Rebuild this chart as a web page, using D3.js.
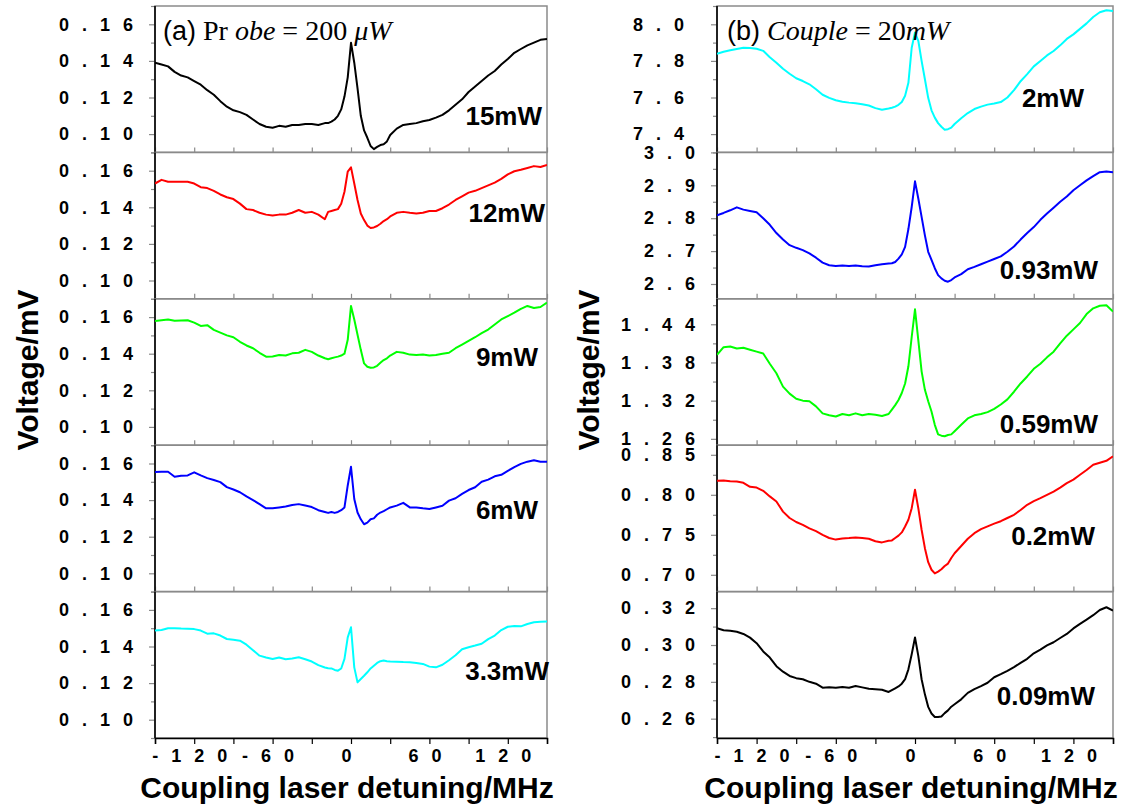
<!DOCTYPE html>
<html>
<head>
<meta charset="utf-8">
<script src="https://cdn.jsdelivr.net/npm/d3@7"></script>
<style>
  body { margin: 0; background: #fff; }
  svg { display: block; }
</style>
</head>
<body>
<svg id="chart" width="1137" height="810"></svg>
<script>
// Coupling-laser detuning grid (MHz): coarse in the wings, finer around the EIT peak
const detuning = [
  -150, -145, -140, -135, -130, -125, -120, -115, -110, -105, -100, -95, -90, -85, -80, -75, -70, -65, -60, -55, -50, -45, -40, -35, -30, -25, -20,
  -17.5, -15, -12.5, -10, -7.5, -5, -2.5, 0, 2.5, 5, 7.5, 10, 12.5, 15, 17.5, 20, 22.5, 25, 27.5, 30,
  35, 40, 45, 50, 55, 60, 65, 70, 75, 80, 85, 90, 95, 100, 105, 110, 115, 120, 125, 130, 135, 140, 145, 150
];

// (a) Probe = 200 uW, coupling power varied
const couplingPowers = ["15mW", "12mW", "9mW", "6mW", "3.3mW"];
const couplingColors = ["#000000", "#ff0000", "#00ff00", "#0000ff", "#00ffff"];

const coupling15mW = [
  0.139, 0.138, 0.137, 0.134, 0.132, 0.131, 0.129, 0.127, 0.124, 0.1215, 0.118, 0.115, 0.113, 0.112, 0.1105, 0.108, 0.1055, 0.104, 0.1035, 0.1045, 0.104, 0.105, 0.105, 0.1055, 0.1055, 0.105, 0.106,
  0.106, 0.1068, 0.108, 0.110, 0.1135, 0.1205, 0.131, 0.1499, 0.139, 0.125, 0.110, 0.102, 0.098, 0.0935, 0.0918, 0.093, 0.094, 0.0945, 0.096, 0.0995,
  0.103, 0.105, 0.1055, 0.106, 0.107, 0.1077, 0.109, 0.1105, 0.113, 0.116, 0.119, 0.123, 0.126, 0.129, 0.132, 0.1345, 0.138, 0.141, 0.1444, 0.1465, 0.1485, 0.150, 0.1515, 0.152
];
const coupling12mW = [
  0.153, 0.155, 0.154, 0.154, 0.154, 0.154, 0.153, 0.151, 0.1505, 0.149, 0.147, 0.1455, 0.1445, 0.142, 0.139, 0.1385, 0.137, 0.136, 0.1355, 0.136, 0.136, 0.137, 0.1385, 0.137, 0.1375, 0.136, 0.1335,
  0.1375, 0.138, 0.1385, 0.139, 0.142, 0.1485, 0.1595, 0.1618, 0.153, 0.144, 0.1366, 0.133, 0.130, 0.1287, 0.129, 0.1298, 0.131, 0.1325, 0.1335, 0.135,
  0.137, 0.1375, 0.137, 0.1366, 0.137, 0.138, 0.138, 0.1395, 0.1415, 0.144, 0.146, 0.148, 0.149, 0.1505, 0.152, 0.1535, 0.1555, 0.158, 0.1597, 0.1605, 0.1615, 0.1625, 0.162, 0.1631
];
const coupling9mW = [
  0.1578, 0.1583, 0.1587, 0.158, 0.1582, 0.1583, 0.157, 0.1552, 0.1556, 0.153, 0.1515, 0.150, 0.149, 0.1465, 0.1445, 0.143, 0.1405, 0.1384, 0.1385, 0.1393, 0.139, 0.1402, 0.1405, 0.1421, 0.141, 0.139, 0.1375,
  0.137, 0.1375, 0.138, 0.1384, 0.139, 0.140, 0.1476, 0.1661, 0.1587, 0.1504, 0.1421, 0.1347, 0.1329, 0.1323, 0.1325, 0.1334, 0.135, 0.1365, 0.1375, 0.139,
  0.141, 0.1405, 0.1395, 0.1393, 0.1395, 0.139, 0.1393, 0.140, 0.1405, 0.143, 0.145, 0.147, 0.149, 0.1512, 0.1532, 0.156, 0.1587, 0.1605, 0.1624, 0.1645, 0.1661, 0.165, 0.1655, 0.1679
];
const coupling6mW = [
  0.1554, 0.1555, 0.1555, 0.1528, 0.1533, 0.1535, 0.1552, 0.1535, 0.152, 0.151, 0.1498, 0.1471, 0.1458, 0.1443, 0.142, 0.140, 0.1378, 0.1355, 0.1355, 0.136, 0.1365, 0.1373, 0.1378, 0.137, 0.1362, 0.1345, 0.1335,
  0.133, 0.1335, 0.133, 0.1335, 0.1345, 0.136, 0.148, 0.1582, 0.1406, 0.1332, 0.1295, 0.1268, 0.1277, 0.1295, 0.130, 0.132, 0.1332, 0.134, 0.135, 0.136,
  0.137, 0.1385, 0.136, 0.136, 0.1355, 0.1351, 0.136, 0.1369, 0.1397, 0.141, 0.1434, 0.1455, 0.147, 0.150, 0.1512, 0.153, 0.1538, 0.156, 0.158, 0.1598, 0.161, 0.1618, 0.161, 0.1609
];
const coupling3p3mW = [
  0.1487, 0.149, 0.150, 0.150, 0.1498, 0.1497, 0.1495, 0.1487, 0.147, 0.1472, 0.146, 0.1441, 0.1437, 0.1432, 0.141, 0.138, 0.135, 0.134, 0.1332, 0.134, 0.133, 0.1335, 0.1341, 0.133, 0.1318, 0.1298, 0.1285,
  0.1281, 0.128, 0.1272, 0.1268, 0.128, 0.1332, 0.145, 0.1505, 0.1286, 0.1204, 0.1222, 0.124, 0.1259, 0.128, 0.1295, 0.131, 0.132, 0.1323, 0.132, 0.1318,
  0.1317, 0.1315, 0.1314, 0.131, 0.1305, 0.129, 0.1286, 0.130, 0.1325, 0.1352, 0.1385, 0.1396, 0.1405, 0.1415, 0.144, 0.146, 0.149, 0.1508, 0.1512, 0.151, 0.1523, 0.1532, 0.1535, 0.1536
];

// (b) Coupling = 20 mW, probe power varied
const probePowers = ["2mW", "0.93mW", "0.59mW", "0.2mW", "0.09mW"];
const probeColors = ["#00ffff", "#0000ff", "#00ff00", "#ff0000", "#000000"];

const probe2mW = [
  7.839, 7.85, 7.858, 7.865, 7.872, 7.87, 7.866, 7.855, 7.82, 7.79, 7.757, 7.73, 7.705, 7.69, 7.672, 7.645, 7.615, 7.598, 7.585, 7.577, 7.572, 7.568, 7.563, 7.556, 7.542, 7.533, 7.54,
  7.544, 7.55, 7.56, 7.575, 7.61, 7.68, 7.872, 7.955, 7.91, 7.80, 7.70, 7.598, 7.53, 7.49, 7.46, 7.44, 7.424, 7.427, 7.435, 7.455,
  7.487, 7.515, 7.537, 7.55, 7.561, 7.567, 7.575, 7.60, 7.64, 7.689, 7.728, 7.77, 7.80, 7.83, 7.854, 7.885, 7.92, 7.945, 7.975, 8.005, 8.04, 8.066, 8.077, 8.073
];
const probe0p93mW = [
  2.809, 2.816, 2.824, 2.833, 2.826, 2.822, 2.818, 2.80, 2.78, 2.755, 2.735, 2.718, 2.71, 2.703, 2.693, 2.68, 2.665, 2.657, 2.655, 2.656, 2.655, 2.656, 2.654, 2.653, 2.657, 2.66, 2.662,
  2.663, 2.667, 2.677, 2.69, 2.713, 2.767, 2.834, 2.912, 2.86, 2.804, 2.748, 2.698, 2.673, 2.648, 2.627, 2.617, 2.61, 2.607, 2.612, 2.62,
  2.63, 2.645, 2.652, 2.66, 2.668, 2.676, 2.684, 2.698, 2.714, 2.735, 2.755, 2.773, 2.795, 2.814, 2.832, 2.85, 2.866, 2.885, 2.90, 2.915, 2.928, 2.94, 2.942, 2.94
];
const probe0p59mW = [
  1.392, 1.404, 1.405, 1.402, 1.403, 1.400, 1.397, 1.394, 1.378, 1.363, 1.342, 1.331, 1.323, 1.32, 1.319, 1.311, 1.30, 1.297, 1.295, 1.299, 1.297, 1.300, 1.297, 1.299, 1.298, 1.296, 1.299,
  1.306, 1.313, 1.321, 1.332, 1.347, 1.374, 1.42, 1.4635, 1.415, 1.366, 1.337, 1.319, 1.303, 1.282, 1.267, 1.265, 1.264, 1.266, 1.267, 1.272,
  1.282, 1.292, 1.297, 1.299, 1.302, 1.307, 1.314, 1.322, 1.334, 1.347, 1.358, 1.37, 1.378, 1.388, 1.397, 1.41, 1.422, 1.432, 1.442, 1.456, 1.465, 1.469, 1.47, 1.46
];
const probe0p2mW = [
  0.8175, 0.818, 0.817, 0.8165, 0.815, 0.810, 0.809, 0.805, 0.798, 0.7917, 0.779, 0.771, 0.766, 0.7625, 0.758, 0.7545, 0.75, 0.746, 0.744, 0.7455, 0.746, 0.7467, 0.746, 0.745, 0.742, 0.7405, 0.7425,
  0.743, 0.746, 0.749, 0.753, 0.7604, 0.7688, 0.7833, 0.8063, 0.7833, 0.7563, 0.7333, 0.7158, 0.7063, 0.7017, 0.704, 0.707, 0.711, 0.714, 0.721, 0.727,
  0.736, 0.745, 0.752, 0.757, 0.7605, 0.764, 0.767, 0.771, 0.775, 0.781, 0.7875, 0.792, 0.7958, 0.800, 0.804, 0.809, 0.8146, 0.819, 0.825, 0.831, 0.8375, 0.840, 0.8425, 0.848
];
const probe0p09mW = [
  0.3091, 0.308, 0.3078, 0.3072, 0.306, 0.304, 0.301, 0.2965, 0.2932, 0.2885, 0.2855, 0.2832, 0.282, 0.2814, 0.280, 0.279, 0.2768, 0.277, 0.2768, 0.2772, 0.2768, 0.2777, 0.277, 0.2762, 0.276, 0.2757, 0.2745,
  0.2755, 0.2765, 0.2775, 0.279, 0.2815, 0.2868, 0.295, 0.3041, 0.2941, 0.2814, 0.2732, 0.2664, 0.2628, 0.2609, 0.2609, 0.2612, 0.263, 0.2645, 0.2665, 0.2678,
  0.2705, 0.274, 0.276, 0.2777, 0.2795, 0.2825, 0.2842, 0.286, 0.288, 0.2903, 0.2925, 0.2955, 0.2975, 0.2998, 0.3015, 0.3038, 0.306, 0.309, 0.3115, 0.3138, 0.3162, 0.319, 0.3205, 0.3187
];

// Axis ranges and ticks (voltage, mV)
const couplingDomains = [[0.09, 0.17], [0.09, 0.17], [0.09, 0.17], [0.09, 0.17], [0.09, 0.17]];
const couplingMajorTicks = [0.10, 0.12, 0.14, 0.16];
const couplingMinorTicks = [0.09, 0.11, 0.13, 0.15, 0.17];

const probeDomains = [[7.3, 8.1], [2.555, 3.0], [1.25, 1.48], [0.679, 0.862], [0.2495, 0.329]];
const probeMajorTicks = [[7.4, 7.6, 7.8, 8.0], [2.6, 2.7, 2.8, 2.9, 3.0], [1.26, 1.32, 1.38, 1.44], [0.70, 0.75, 0.80, 0.85], [0.26, 0.28, 0.30, 0.32]];
const probeMinorTicks = [[7.3, 7.5, 7.7, 7.9, 8.1], [2.65, 2.75, 2.85, 2.95], [1.29, 1.35, 1.41, 1.47], [0.725, 0.775, 0.825], [0.25, 0.27, 0.29, 0.31]];
const probeDecimals = [1, 1, 2, 2, 2];

const detuningTicks = [-150, -120, -90, -60, -30, 0, 30, 60, 90, 120, 150];
const detuningLabels = [-120, -60, 0, 60, 120];

// ---- layout ----
const svg = d3.select("#chart");
const SANS = "'Liberation Sans', Arial, Helvetica, sans-serif";
const SERIF = "'Liberation Serif', 'Times New Roman', serif";
const rowTop = 6, rowH = 146.4, nRows = 5;
const frameGrey = "#8a8a8a";

const panels = [
  {
    x0: 155, x1: 547,
    traces: [coupling15mW, coupling12mW, coupling9mW, coupling6mW, coupling3p3mW],
    colors: couplingColors, names: couplingPowers,
    domains: couplingDomains,
    major: couplingDomains.map(() => couplingMajorTicks),
    minor: couplingDomains.map(() => couplingMinorTicks),
    decimals: [2, 2, 2, 2, 2],
    labelGap: [18, 18, 18, 18, 18],
    nameAt: [[542, 125], [545, 222], [538, 366], [538, 519], [549, 680]],
    yTitleX: 27
  },
  {
    x0: 717, x1: 1113,
    traces: [probe2mW, probe0p93mW, probe0p59mW, probe0p2mW, probe0p09mW],
    colors: probeColors, names: probePowers,
    domains: probeDomains,
    major: probeMajorTicks,
    minor: probeMinorTicks,
    decimals: probeDecimals,
    labelGap: [29, 18, 18, 18, 18],
    nameAt: [[1084, 107], [1098, 279], [1098, 433], [1095, 545], [1095, 705]],
    yTitleX: 588
  }
];

const spaced = s => s.split("").join(" ");

panels.forEach((p, pi) => {
  const x = d3.scaleLinear().domain([-150, 150]).range([p.x0, p.x1]);
  const line = d3.line().x(d => x(d[0])).y(d => d[2](d[1]));

  p.traces.forEach((vals, i) => {
    const top = rowTop + i * rowH, bottom = top + rowH;
    const y = d3.scaleLinear().domain(p.domains[i]).range([bottom, top]);
    const g = svg.append("g");
    const clipId = `clip-${pi}-${i}`;
    g.append("clipPath").attr("id", clipId)
      .append("rect").attr("x", p.x0).attr("y", top).attr("width", p.x1 - p.x0).attr("height", rowH);

    // frame
    g.append("rect")
      .attr("x", p.x0).attr("y", top).attr("width", p.x1 - p.x0).attr("height", rowH)
      .attr("fill", "none").attr("stroke", frameGrey).attr("stroke-width", 1.5);

    // minor y ticks
    const yMinor = g.append("g").attr("transform", `translate(${p.x0},0)`)
      .call(d3.axisLeft(y).tickValues(p.minor[i]).tickSize(4).tickFormat(""));
    yMinor.select(".domain").remove();
    yMinor.selectAll("line").attr("stroke", frameGrey).attr("stroke-width", 1.2);

    // major y ticks with spaced labels
    const fmt = d3.format(`.${p.decimals[i]}f`);
    const yMajor = g.append("g").attr("transform", `translate(${p.x0},0)`)
      .call(d3.axisLeft(y).tickValues(p.major[i]).tickSize(6).tickFormat(d => spaced(fmt(d))));
    yMajor.select(".domain").remove();
    yMajor.selectAll("line").attr("stroke", frameGrey).attr("stroke-width", 1.2);
    yMajor.selectAll("text")
      .attr("x", -p.labelGap[i])
      .attr("font-family", SANS).attr("font-size", 18).attr("font-weight", "bold")
      .attr("letter-spacing", "4px").attr("fill", "#000");

    // x ticks
    if (i < nRows - 1) {
      const xa = g.append("g").attr("transform", `translate(0,${bottom})`)
        .call(d3.axisBottom(x).tickValues(detuningTicks).tickSize(-5).tickFormat(""));
      xa.select(".domain").remove();
      xa.selectAll("line").attr("stroke", frameGrey).attr("stroke-width", 1.2);
    } else {
      const xa = g.append("g").attr("transform", `translate(0,${bottom})`)
        .call(d3.axisBottom(x).tickValues(detuningTicks).tickSize(6)
          .tickFormat(d => detuningLabels.includes(d) ? spaced(String(d)) : ""));
      xa.select(".domain").attr("stroke", "#000").attr("stroke-width", 1.5);
      xa.selectAll("line").attr("stroke", "#000").attr("stroke-width", 1.2);
      xa.selectAll("text")
        .attr("y", 24).attr("dy", 0).attr("dx", -3)
        .attr("font-family", SANS).attr("font-size", 18).attr("font-weight", "bold")
        .attr("letter-spacing", "4px").attr("fill", "#000");
    }

    // left spine
    g.append("line")
      .attr("x1", p.x0).attr("x2", p.x0).attr("y1", top).attr("y2", bottom)
      .attr("stroke", "#000").attr("stroke-width", 1.6);

    // trace
    const pts = detuning.map((d, k) => [d, vals[k], y]);
    g.append("path")
      .attr("clip-path", `url(#${clipId})`)
      .attr("d", line(pts))
      .attr("fill", "none")
      .attr("stroke", p.colors[i])
      .attr("stroke-width", 2)
      .attr("stroke-linejoin", "round");

    // power label
    g.append("text")
      .attr("x", p.nameAt[i][0]).attr("y", p.nameAt[i][1])
      .attr("text-anchor", "end")
      .attr("font-family", SANS).attr("font-size", 26).attr("font-weight", "bold")
      .attr("fill", "#000")
      .text(p.names[i]);
  });

  // axis titles
  svg.append("text")
    .attr("transform", `translate(${p.yTitleX},370) rotate(-90)`)
    .attr("text-anchor", "middle").attr("dominant-baseline", "central")
    .attr("font-family", SANS).attr("font-size", 30).attr("font-weight", "bold")
    .text("Voltage/mV");
  svg.append("text")
    .attr("x", (p.x0 + p.x1) / 2 - 4).attr("y", 798)
    .attr("text-anchor", "middle")
    .attr("font-family", SANS).attr("font-size", 30).attr("font-weight", "bold")
    .text("Coupling laser detuning/MHz");
});

// panel captions
const capA = svg.append("text").attr("x", 163).attr("y", 40).attr("fill", "#000");
capA.append("tspan").attr("font-family", SANS).attr("font-size", 27).text("(a)");
capA.append("tspan").attr("font-family", SERIF).attr("font-size", 28).text(" Pr ");
capA.append("tspan").attr("font-family", SERIF).attr("font-size", 28).attr("font-style", "italic").text("obe");
capA.append("tspan").attr("font-family", SERIF).attr("font-size", 28).text(" = 200 ");
capA.append("tspan").attr("font-family", SERIF).attr("font-size", 28).attr("font-style", "italic").text("μW");

const capB = svg.append("text").attr("x", 727).attr("y", 40).attr("fill", "#000");
capB.append("tspan").attr("font-family", SANS).attr("font-size", 27).text("(b)");
capB.append("tspan").attr("font-family", SERIF).attr("font-size", 28).attr("font-style", "italic").text(" Couple");
capB.append("tspan").attr("font-family", SERIF).attr("font-size", 28).text(" = 20");
capB.append("tspan").attr("font-family", SERIF).attr("font-size", 28).attr("font-style", "italic").text("mW");
</script>
</body>
</html>
